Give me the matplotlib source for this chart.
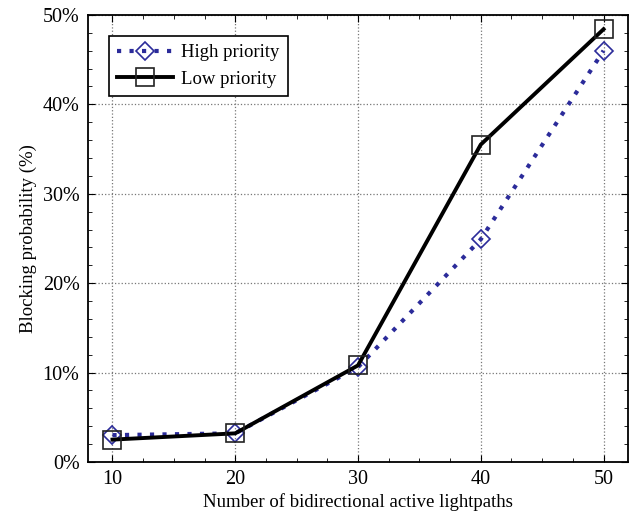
import numpy as np
import matplotlib.pyplot as plt
from matplotlib.ticker import MultipleLocator, PercentFormatter

plt.rcParams['font.family'] = ['Liberation Serif', 'DejaVu Serif']

lightpaths = [10, 20, 30, 40, 50]
high_priority = [3.0, 3.2, 10.6, 24.9, 46.0]
low_priority = [2.5, 3.2, 10.8, 35.5, 48.4]

fig = plt.figure(figsize=(6.37, 5.15), dpi=100)
ax = fig.add_axes([0.138, 0.103, 0.848, 0.868])

ax.plot(lightpaths, high_priority, color="#2b2b9a", linestyle=(0, (1, 2.0)),
        linewidth=3.0, marker="D", markersize=9, markerfacecolor="none",
        markeredgecolor="#2b2b9a", markeredgewidth=1.2, label="High priority")
ax.plot(lightpaths, low_priority, color="black", linewidth=2.8,
        marker="s", markersize=13, markerfacecolor="none",
        markeredgecolor="#222222", markeredgewidth=1.2, label="Low priority")

ax.set_xlim(8, 52)
ax.set_ylim(0, 50)
ax.xaxis.set_major_locator(MultipleLocator(10))
ax.xaxis.set_minor_locator(MultipleLocator(2.5))
ax.yaxis.set_major_locator(MultipleLocator(10))
ax.yaxis.set_minor_locator(MultipleLocator(2))
ax.yaxis.set_major_formatter(PercentFormatter(decimals=0))
ax.tick_params(which="both", direction="in", top=True, right=True, labelsize=14.5)
ax.tick_params(which="major", length=5)
ax.tick_params(which="minor", length=3)
ax.tick_params(axis="x", pad=6)
ax.tick_params(axis="y", pad=6)
ax.grid(True, which="major", linestyle=":", color="#777777", linewidth=0.9)
for s in ax.spines.values():
    s.set_linewidth(1.3)

ax.set_xlabel("Number of bidirectional active lightpaths", fontsize=13.5, labelpad=3)
ax.set_ylabel("Blocking probability (%)", fontsize=13.5, labelpad=4)

leg = ax.legend(loc="upper left", fontsize=13.5, fancybox=False, framealpha=1,
                edgecolor="black", borderaxespad=1.1, handlelength=3.0,
                handletextpad=0.4, borderpad=0.45, labelspacing=0.5)
leg.get_frame().set_linewidth(1.2)

fig.savefig("out.png", dpi=100)
